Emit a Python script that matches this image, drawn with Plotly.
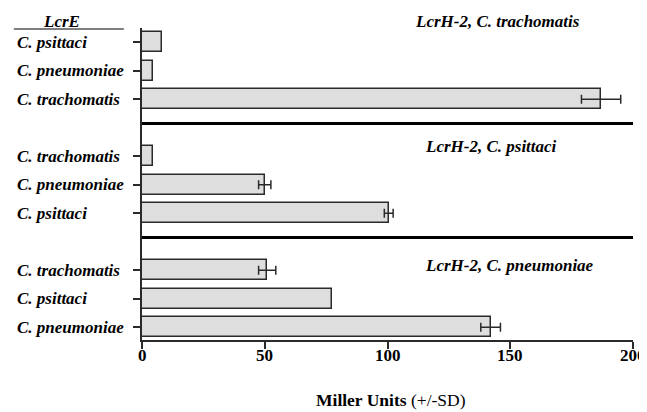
import plotly.graph_objects as go

# ---- data ----
group_titles = ["LcrH-2, C. trachomatis", "LcrH-2, C. psittaci", "LcrH-2, C. pneumoniae"]
categories = [
    ["C. psittaci", "C. pneumoniae", "C. trachomatis"],
    ["C. trachomatis", "C. pneumoniae", "C. psittaci"],
    ["C. trachomatis", "C. psittaci", "C. pneumoniae"],
]
values = [
    [8.0, 4.4, 187.0],
    [4.4, 50.0, 100.5],
    [51.0, 77.5, 142.0],
]
sd = [
    [None, None, 8.0],
    [None, 2.5, 1.8],
    [3.5, None, 4.0],
]
x_ticks = [0, 50, 100, 150, 200]

FONT = "Liberation Serif, Times New Roman, serif"
DARK = "#2a2a2a"

# flatten into positions (4 slots per group: 3 bars + gap)
ypos, xs, labels = [], [], []
ey, ex, es = [], [], []
for g in range(len(categories)):
    for i in range(len(categories[g])):
        p = g * 4 + i
        ypos.append(p)
        xs.append(values[g][i])
        labels.append(categories[g][i])
        if sd[g][i] is not None:
            ey.append(p)
            ex.append(values[g][i])
            es.append(sd[g][i])

fig = go.Figure()
fig.add_trace(go.Bar(
    x=xs, y=ypos, orientation="h", width=0.7,
    marker=dict(color="#dedede", line=dict(color=DARK, width=1.5)),
    showlegend=False, hoverinfo="x",
))
fig.add_trace(go.Scatter(
    x=ex, y=ey, mode="markers", marker=dict(size=0.1, color=DARK, opacity=0),
    error_x=dict(type="data", array=es, color=DARK, thickness=1.5, width=4.5, visible=True),
    showlegend=False, hoverinfo="skip",
))

shapes = []
for g in range(1, len(categories)):
    ysep = g * 4 - 1.15
    shapes.append(dict(type="line", xref="x", yref="y", x0=0, x1=201, y0=ysep, y1=ysep,
                       line=dict(color="black", width=3)))
# LcrE underline
shapes.append(dict(type="line", xref="paper", yref="paper", x0=-0.261, x1=-0.037, y0=0.997, y1=0.997,
                   line=dict(color="#555", width=1.5)))

annotations = []
# left-aligned category labels
for yv, lab in zip(ypos, labels):
    annotations.append(dict(x=-0.259, y=yv, xref="paper", yref="y", xanchor="left", yanchor="middle",
                            text="<b><i>" + lab + "</i></b>", showarrow=False,
                            font=dict(family=FONT, size=17, color="black")))
# x tick labels
for v in x_ticks:
    annotations.append(dict(x=v, y=-0.051, xref="x", yref="paper", xanchor="center", yanchor="middle",
                            text="<b>%d</b>" % v, showarrow=False,
                            font=dict(family=FONT, size=17, color="black")))
title_pos = [(0.552, 1.022), (0.572, 0.620), (0.572, 0.238)]
for g, t in enumerate(group_titles):
    annotations.append(dict(x=title_pos[g][0], y=title_pos[g][1], xref="paper", yref="paper",
                            xanchor="left", yanchor="middle",
                            text="<b><i>" + t + "</i></b>", showarrow=False,
                            font=dict(family=FONT, size=17, color="black")))
annotations.append(dict(x=-0.163, y=1.022, xref="paper", yref="paper", xanchor="center", yanchor="middle",
                        text="<b><i>LcrE</i></b>", showarrow=False, font=dict(family=FONT, size=17, color="black")))
annotations.append(dict(x=0.507, y=-0.192, xref="paper", yref="paper", xanchor="center", yanchor="middle",
                        text="<b>Miller Units</b> (+/-SD)", showarrow=False,
                        font=dict(family=FONT, size=17.5, color="black")))

# page body has an 8px margin: size the figure so the plot area lands where the reference has it
fig.update_layout(
    width=639, height=404,
    margin=dict(l=134, r=14, t=20, b=72),
    paper_bgcolor="white", plot_bgcolor="white",
    font=dict(family=FONT, size=17, color="black"),
    shapes=shapes, annotations=annotations,
    bargap=0,
)
fig.update_xaxes(range=[0, 200], tickvals=x_ticks, ticktext=[""] * len(x_ticks),
                 showgrid=False, zeroline=False, showline=True, linecolor=DARK, linewidth=1.5,
                 ticks="outside", ticklen=7, tickwidth=1.5, tickcolor=DARK, automargin=False)
fig.update_yaxes(range=[10.45, -0.5], tickvals=ypos, ticktext=[""] * len(ypos),
                 showgrid=False, zeroline=False, showline=True, linecolor=DARK, linewidth=1.5,
                 ticks="outside", ticklen=7, tickwidth=1.5, tickcolor=DARK,
                 automargin=False)

fig.write_html("out.html")
